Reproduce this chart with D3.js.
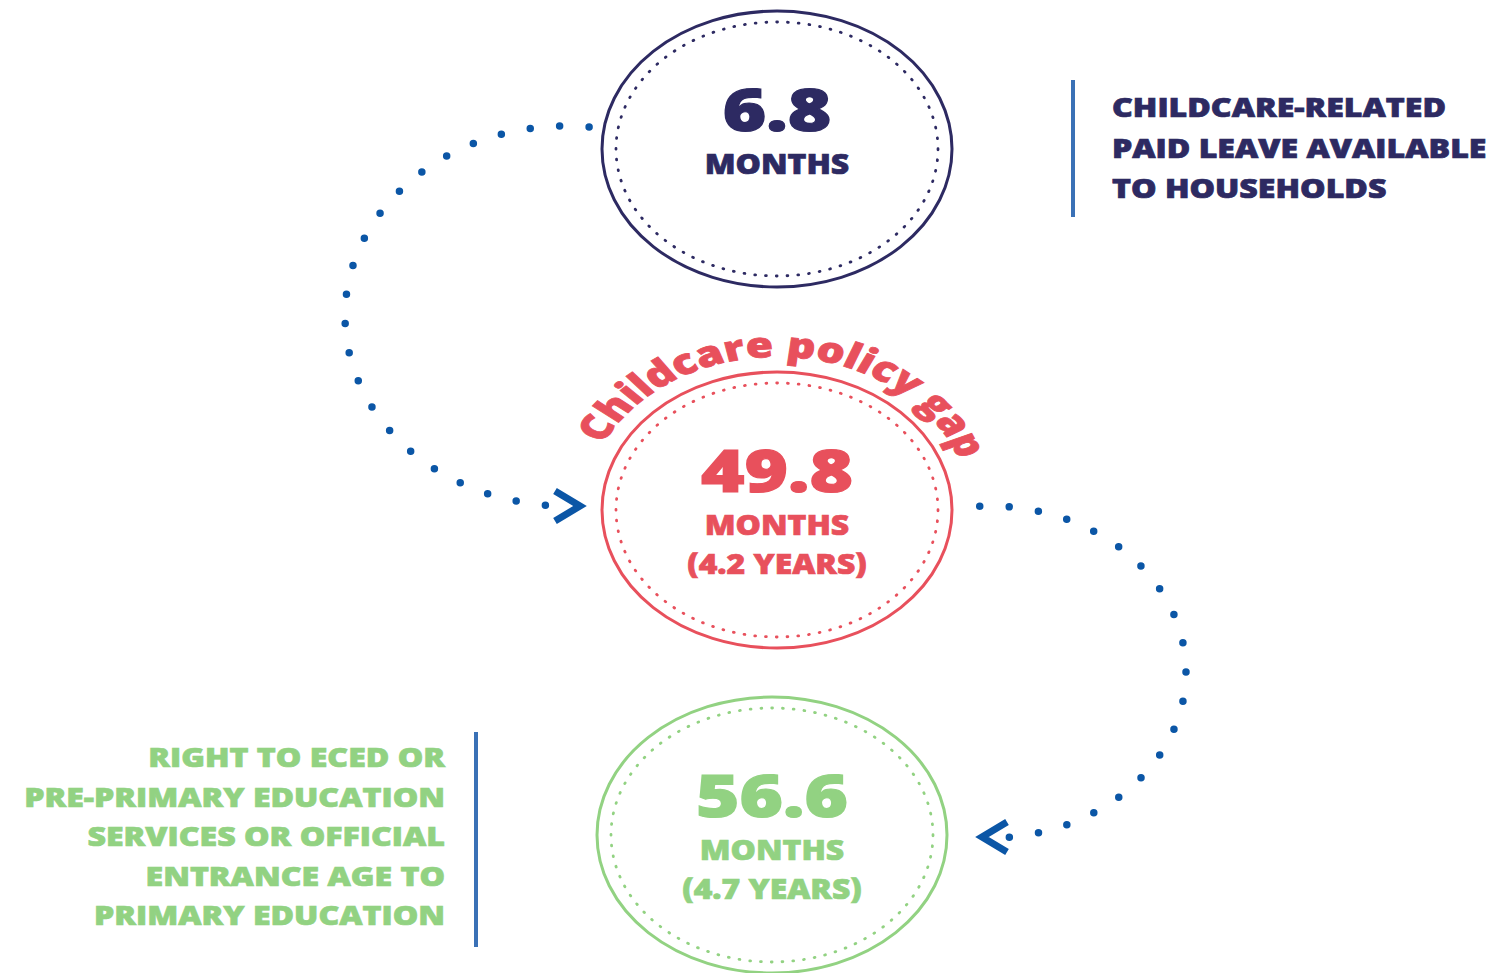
<!DOCTYPE html>
<html>
<head>
<meta charset="utf-8">
<script src="https://cdn.jsdelivr.net/npm/d3@7"></script>
<style>
  html, body { margin: 0; padding: 0; background: #fff; }
  svg { display: block; font-family: "Open Sans", "Noto Sans", sans-serif; }
</style>
</head>
<body>
<div class="chart"></div>
<script>
// values
const stages   = ['paid leave', 'policy gap', 'pre-primary']
const months   = [6.8, 49.8, 56.6]
const unitText = ['MONTHS', 'MONTHS', 'MONTHS']
const yearText = [null, '(4.2 YEARS)', '(4.7 YEARS)']
const colors   = ['#2d2a62', '#e8505c', '#92d282']
const gapLabel = 'Childcare policy gap'
const topNote  = ['CHILDCARE-RELATED', 'PAID LEAVE AVAILABLE', 'TO HOUSEHOLDS']
const sideNote = ['RIGHT TO ECED OR', 'PRE-PRIMARY EDUCATION', 'SERVICES OR OFFICIAL',
                  'ENTRANCE AGE TO', 'PRIMARY EDUCATION']

const width = 1493, height = 973
const arrowBlue = '#0b56a6', ruleBlue = '#3a71b6'
// the original artwork is stretched sideways
const stretch = 1.26, noteStretch = 1.235

const svg = d3.select('.chart').append('svg')
  .attr('width', width)
  .attr('height', height)

// circle centres, one per stage
const cx = d3.scaleOrdinal().domain(stages).range([777, 777, 772])
const cy = d3.scaleOrdinal().domain(stages).range([149, 510, 835])
const rx = 175, ry = 138

const fmt = d3.format('.1f')

function ellipsePoints (x0, y0, a, b, t0, t1, n) {
  return d3.range(n + 1).map(i => {
    const t = (t0 + (t1 - t0) * i / n) * Math.PI / 180
    return [x0 + a * Math.cos(t), y0 + b * Math.sin(t)]
  })
}
const line = d3.line()

// connecting dotted arcs
const arcs = [
  { x: 566, y: 316, a: 221, b: 190, t0: -84, t1: -266 },
  { x: 990, y: 672, a: 196, b: 166, t0: -93, t1: 85 }
]
svg.selectAll('path.link')
  .data(arcs)
  .enter()
  .append('path')
    .attr('class', 'link')
    .attr('d', d => line(ellipsePoints(d.x, d.y, d.a, d.b, d.t0, d.t1, 200)))
    .attr('fill', 'none')
    .attr('stroke', arrowBlue)
    .attr('stroke-width', 7.5)
    .attr('stroke-linecap', 'round')
    .attr('stroke-dasharray', '0 29.5')

// chevrons at the ends of the arcs
const chevrons = [
  { x: 580, y: 506, dir: 1 },
  { x: 982, y: 837, dir: -1 }
]
svg.selectAll('path.chev')
  .data(chevrons)
  .enter()
  .append('path')
    .attr('class', 'chev')
    .attr('d', d => line([[d.x - d.dir * 25, d.y - 15], [d.x, d.y], [d.x - d.dir * 25, d.y + 15]]))
    .attr('fill', 'none')
    .attr('stroke', arrowBlue)
    .attr('stroke-width', 7)
    .attr('stroke-linejoin', 'miter')

// the three rings
const g = svg.selectAll('g.stage')
  .data(stages)
  .enter()
  .append('g')
    .attr('class', 'stage')
    .attr('transform', d => 'translate(' + cx(d) + ',' + cy(d) + ')')

g.append('ellipse')
  .attr('rx', rx).attr('ry', ry)
  .attr('fill', '#fff')
  .attr('stroke', (d, i) => colors[i])
  .attr('stroke-width', 3)

g.append('ellipse')
  .attr('rx', rx - 14).attr('ry', ry - 11)
  .attr('fill', 'none')
  .attr('stroke', (d, i) => colors[i])
  .attr('stroke-width', 2.8)
  .attr('stroke-linecap', 'round')
  .attr('stroke-dasharray', '0.8 10')

g.append('text')
  .attr('y', -18)
  .attr('transform', 'scale(' + stretch + ',1)')
  .attr('text-anchor', 'middle')
  .attr('font-size', 59)
  .attr('font-weight', 800)
  .attr('fill', (d, i) => colors[i])
  .attr('stroke', (d, i) => colors[i])
  .attr('stroke-width', 1.2)
  .text((d, i) => fmt(months[i]))

g.append('text')
  .attr('y', 25)
  .attr('transform', 'scale(1.1,1)')
  .attr('text-anchor', 'middle')
  .attr('font-size', 29)
  .attr('font-weight', 800)
  .attr('fill', (d, i) => colors[i])
  .attr('stroke', (d, i) => colors[i])
  .attr('stroke-width', 0.7)
  .text((d, i) => unitText[i])

g.filter((d, i) => yearText[i])
  .append('text')
  .attr('y', 64)
  .attr('transform', 'scale(1.1,1)')
  .attr('text-anchor', 'middle')
  .attr('font-size', 29)
  .attr('font-weight', 800)
  .attr('fill', d => colors[stages.indexOf(d)])
  .attr('stroke', d => colors[stages.indexOf(d)])
  .attr('stroke-width', 0.7)
  .text(d => yearText[stages.indexOf(d)])

// curved label over the middle ring, drawn on a circle then stretched
const gapG = svg.append('g')
  .attr('transform', 'translate(' + cx(stages[1]) + ',' + cy(stages[1]) + ') scale(' + stretch + ',1)')
gapG.append('path')
  .attr('id', 'gapArc')
  .attr('d', line(ellipsePoints(0, 0, 153, 153, 195, 360, 150)))
  .attr('fill', 'none')
gapG.append('text')
  .attr('font-size', 35)
  .attr('font-weight', 800)
  .attr('fill', colors[1])
  .attr('stroke', colors[1])
  .attr('stroke-width', 0.8)
  .append('textPath')
    .attr('href', '#gapArc')
    .attr('startOffset', 28)
    .text(gapLabel)

// side notes with rules
svg.append('line')
  .attr('x1', 1073).attr('x2', 1073).attr('y1', 80).attr('y2', 217)
  .attr('stroke', ruleBlue).attr('stroke-width', 4)
svg.append('g')
  .selectAll('text')
  .data(topNote)
  .enter()
  .append('text')
    .attr('transform', (d, i) => 'translate(1112,' + (117 + i * 40.5) + ') scale(' + noteStretch + ',1)')
    .attr('font-size', 26)
    .attr('font-weight', 800)
    .attr('fill', colors[0])
    .attr('stroke', colors[0])
    .attr('stroke-width', 0.7)
    .text(d => d)

svg.append('line')
  .attr('x1', 476).attr('x2', 476).attr('y1', 732).attr('y2', 947)
  .attr('stroke', ruleBlue).attr('stroke-width', 4)
svg.append('g')
  .selectAll('text')
  .data(sideNote)
  .enter()
  .append('text')
    .attr('transform', (d, i) => 'translate(445,' + (767 + i * 39.5) + ') scale(' + noteStretch + ',1)')
    .attr('text-anchor', 'end')
    .attr('font-size', 26)
    .attr('font-weight', 800)
    .attr('fill', colors[2])
    .attr('stroke', colors[2])
    .attr('stroke-width', 0.7)
    .text(d => d)
</script>
</body>
</html>
